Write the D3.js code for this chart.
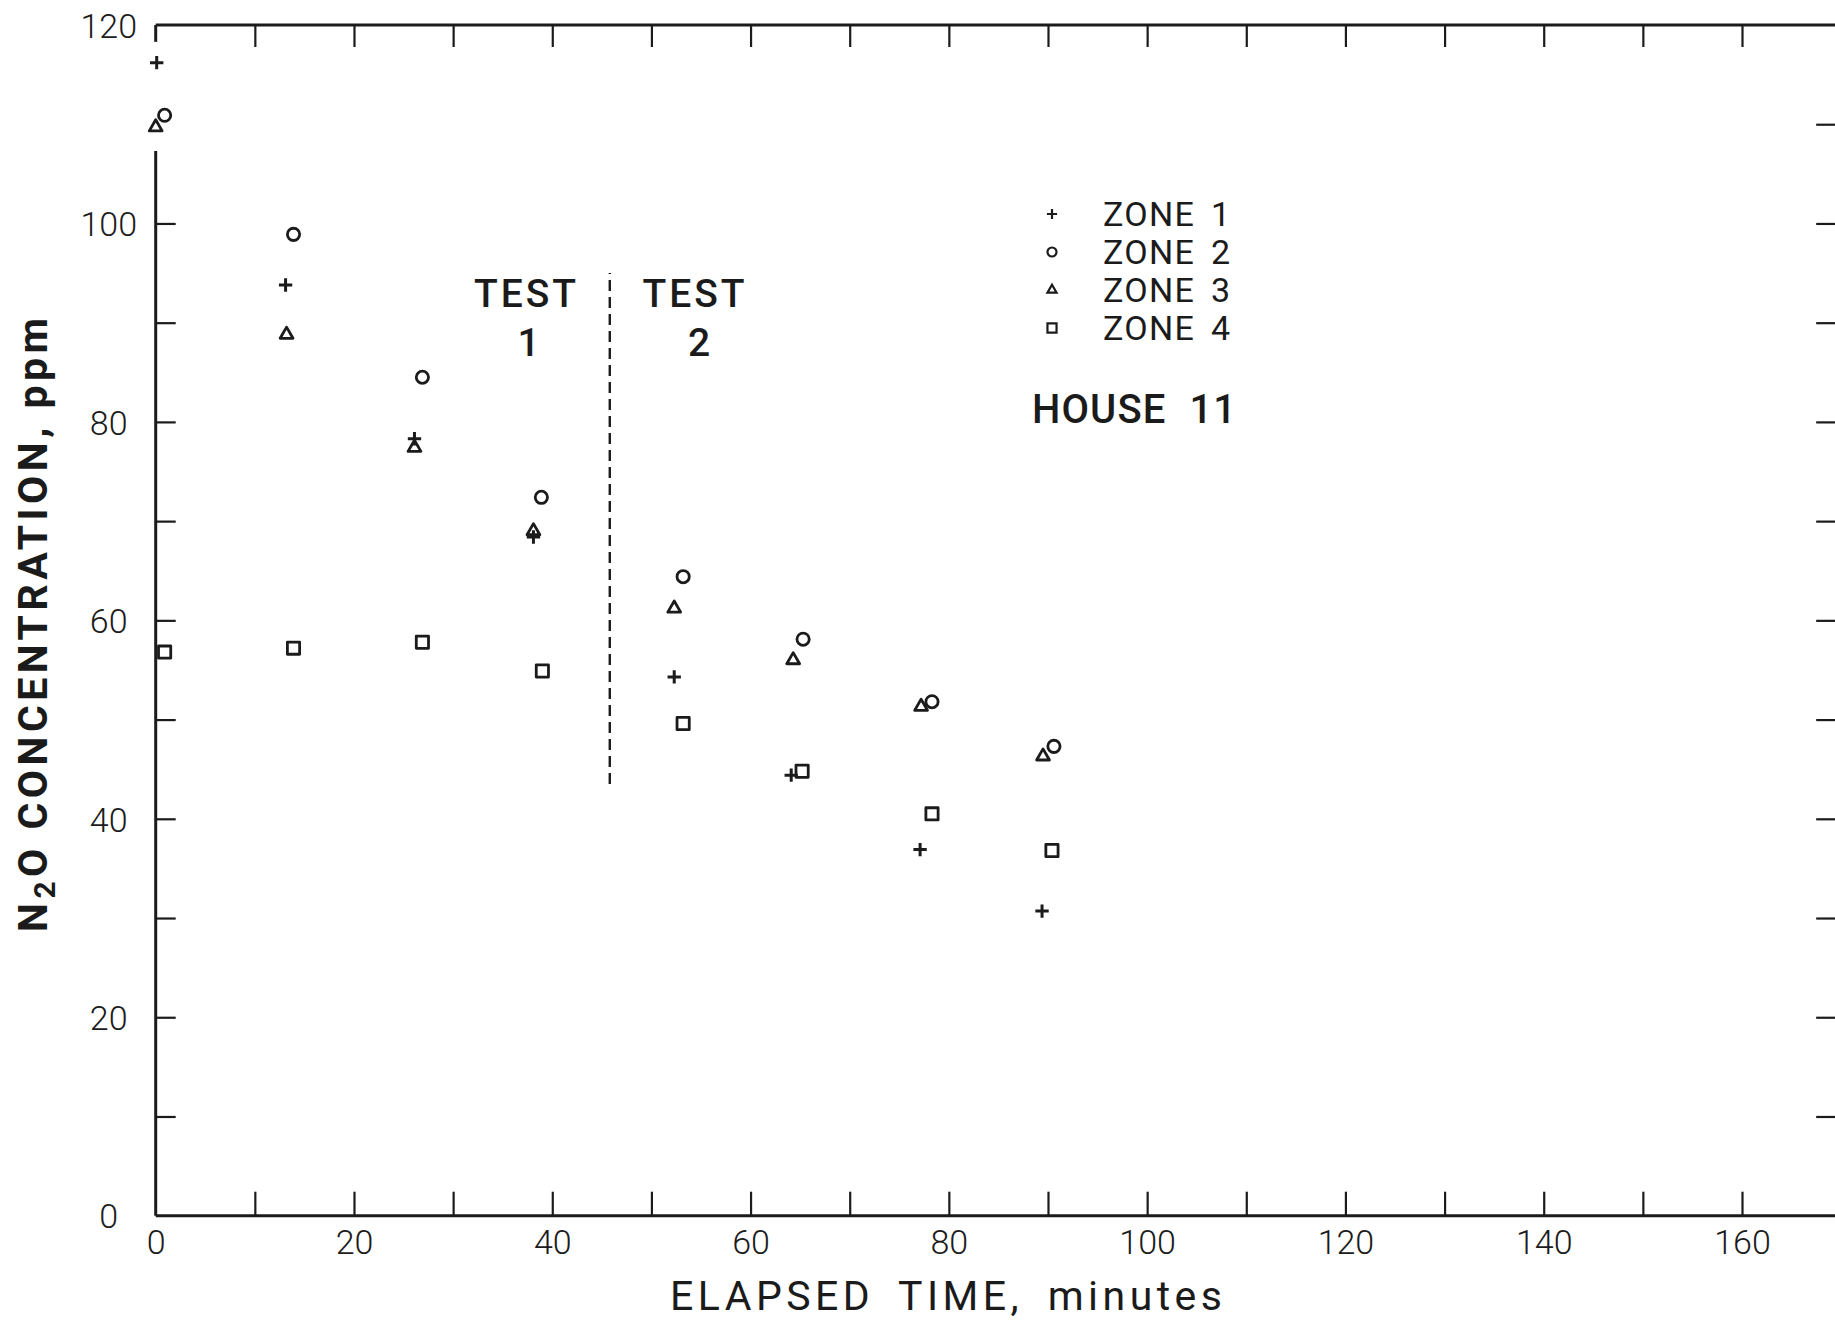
<!DOCTYPE html>
<html>
<head>
<meta charset="utf-8">
<script src="https://cdn.jsdelivr.net/npm/d3@7"></script>
<style>
  html, body { margin: 0; padding: 0; background: #fff; }
  svg { display: block; }
  text { font-family: Roboto, "Liberation Sans", "DejaVu Sans", sans-serif; fill: #1b1b1b; }
</style>
</head>
<body>
<svg id="chart" width="1835" height="1321"></svg>
<script>
// N2O concentration (ppm) measured in four zones of house 11, elapsed time in minutes
const zoneNames = ["ZONE 1", "ZONE 2", "ZONE 3", "ZONE 4"];

const zone1Time = [0.1, 13.1, 26.1, 38.1, 52.3, 64.1, 77.1, 89.4];
const zone1Conc = [116.2, 93.8, 78.3, 68.4, 54.3, 44.4, 36.9, 30.7];

const zone2Time = [0.9, 13.9, 26.9, 38.9, 53.2, 65.3, 78.3, 90.6];
const zone2Conc = [110.9, 98.9, 84.5, 72.4, 64.4, 58.1, 51.8, 47.3];

const zone3Time = [0.0, 13.2, 26.1, 38.1, 52.3, 64.3, 77.2, 89.5];
const zone3Conc = [109.7, 88.8, 77.4, 69.0, 61.2, 56.0, 51.3, 46.3];

const zone4Time = [0.9, 13.9, 26.9, 39.0, 53.2, 65.2, 78.3, 90.4];
const zone4Conc = [56.8, 57.2, 57.8, 54.9, 49.6, 44.8, 40.5, 36.8];

const xTickLabels = [0, 20, 40, 60, 80, 100, 120, 140, 160];
const xTickMarks = [10, 20, 30, 40, 50, 60, 70, 80, 90, 100, 110, 120, 130, 140, 150, 160];
const yTickLabels = [0, 20, 40, 60, 80, 100, 120];
const yTickMarksLeft = [10, 20, 30, 40, 50, 60, 70, 80, 90, 100];
const yTickMarksRight = [10, 20, 30, 40, 50, 60, 70, 80, 90, 100, 110];

// boundary between the two tests
const testBoundaryTime = 45.8;
const testBoundaryConc = [43.5, 95];

const svg = d3.select("#chart");
const W = 1835, H = 1321;
svg.append("rect").attr("width", W).attr("height", H).attr("fill", "#fff");

const x = d3.scaleLinear().domain([0, 160]).range([155.7, 1742]);
const y = d3.scaleLinear().domain([0, 120]).range([1215.7, 25]);
const xRight = 169.7;

const ink = "#1b1b1b";

// ---- frame lines ----
const frame = svg.append("g").attr("stroke", ink).attr("stroke-width", 3).attr("fill", "none");
frame.append("line").attr("x1", x(0)).attr("x2", W + 5).attr("y1", y(0)).attr("y2", y(0));
frame.append("line").attr("x1", x(0)).attr("x2", W + 5).attr("y1", y(120)).attr("y2", y(120));
// left axis is interrupted near the top where the first readings sit
frame.append("line").attr("x1", x(0)).attr("x2", x(0)).attr("y1", y(0)).attr("y2", y(107.3));
frame.append("line").attr("x1", x(0)).attr("x2", x(0)).attr("y1", y(120)).attr("y2", y(118.3));
frame.append("line").attr("x1", x(xRight)).attr("x2", x(xRight)).attr("y1", y(0)).attr("y2", y(120));

// ---- tick marks (inward) ----
function tickStyle(g) {
  g.select(".domain").remove();
  g.selectAll(".tick line").attr("stroke", ink).attr("stroke-width", 2.2);
}
svg.append("g").attr("transform", `translate(0,${y(0)})`)
  .call(d3.axisBottom(x).tickValues(xTickMarks).tickSizeInner(-24).tickSizeOuter(0).tickFormat(""))
  .call(tickStyle);
svg.append("g").attr("transform", `translate(0,${y(120)})`)
  .call(d3.axisTop(x).tickValues(xTickMarks).tickSizeInner(-22).tickSizeOuter(0).tickFormat(""))
  .call(tickStyle);
svg.append("g").attr("transform", `translate(${x(0)},0)`)
  .call(d3.axisLeft(y).tickValues(yTickMarksLeft).tickSizeInner(-20).tickSizeOuter(0).tickFormat(""))
  .call(tickStyle);
svg.append("g").attr("transform", `translate(${x(xRight)},0)`)
  .call(d3.axisRight(y).tickValues(yTickMarksRight).tickSizeInner(-22).tickSizeOuter(0).tickFormat(""))
  .call(tickStyle);

// ---- tick labels ----
const tickFont = 34;
svg.append("g").attr("transform", `translate(0,${y(0)})`)
  .call(d3.axisBottom(x).tickValues(xTickLabels).tickSize(0).tickFormat(d3.format("d")))
  .call(g => {
    g.select(".domain").remove();
    g.selectAll("text").attr("y", 38).attr("dy", 0)
      .attr("font-size", tickFont).attr("font-weight", 300)
      .attr("font-family", "Roboto, sans-serif").attr("fill", ink);
  });
svg.append("g").attr("transform", `translate(${x(0)},0)`)
  .call(d3.axisLeft(y).tickValues(yTickLabels).tickSize(0).tickFormat(d3.format("d")))
  .call(g => {
    g.select(".domain").remove();
    g.selectAll("text").attr("x", -47).attr("dy", "0.36em").attr("text-anchor", "middle")
      .attr("font-size", tickFont).attr("font-weight", 300)
      .attr("font-family", "Roboto, sans-serif").attr("fill", ink);
  });

// spread text so it covers a given width
function spread(sel, width) {
  const node = sel.node();
  const n = node.textContent.length;
  const w = node.getComputedTextLength();
  sel.attr("letter-spacing", ((width - w) / (n - 1)).toFixed(2));
}

// ---- axis titles ----
const xTitle = svg.append("text")
  .attr("x", 670).attr("y", 1310)
  .attr("font-size", 41).attr("font-weight", 400)
  .text("ELAPSED TIME, minutes");
xTitle.attr("word-spacing", 10);
spread(xTitle, 552);

const yTitle = svg.append("text")
  .attr("transform", `translate(47,932) rotate(-90)`)
  .attr("font-size", 41).attr("font-weight", 700);
yTitle.append("tspan").text("N");
yTitle.append("tspan").attr("font-size", 30).attr("dy", 8).text("2");
yTitle.append("tspan").attr("dy", -8).text("O CONCENTRATION, ppm");
spread(yTitle, 614);

// ---- test boundary and labels ----
svg.append("line")
  .attr("x1", x(testBoundaryTime)).attr("x2", x(testBoundaryTime))
  .attr("y1", y(testBoundaryConc[0])).attr("y2", y(testBoundaryConc[1]))
  .attr("stroke", ink).attr("stroke-width", 2.4).attr("stroke-dasharray", "11,6");

const testLabels = [
  { t: 37.4, c: 91.6, s: "TEST" },
  { t: 37.6, c: 86.6, s: "1" },
  { t: 54.4, c: 91.6, s: "TEST" },
  { t: 54.8, c: 86.6, s: "2" }
];
svg.append("g").selectAll("text").data(testLabels).join("text")
  .attr("x", d => x(d.t)).attr("y", d => y(d.c))
  .attr("text-anchor", "middle")
  .attr("font-size", 39).attr("font-weight", 500)
  .attr("letter-spacing", d => d.s === "TEST" ? 3 : 0)
  .text(d => d.s);

// ---- symbols ----
const plusType = d3.symbolPlus || d3.symbolCross;
const triType = d3.symbolTriangle2 || d3.symbolTriangle;
const sqType = d3.symbolSquare2 || d3.symbolSquare;
const zoneSymbols = [
  { type: plusType, size: 60, legendSize: 36 },
  { type: d3.symbolCircle, size: 118, legendSize: 64 },
  { type: triType, size: 118, legendSize: 60 },
  { type: sqType, size: 190, legendSize: 105 }
];

const zones = [
  { time: zone1Time, conc: zone1Conc },
  { time: zone2Time, conc: zone2Conc },
  { time: zone3Time, conc: zone3Conc },
  { time: zone4Time, conc: zone4Conc }
];

zones.forEach((z, i) => {
  const sym = zoneSymbols[i];
  const pts = z.time.map((t, k) => ({ t, c: z.conc[k] }));
  svg.append("g").attr("class", "zone" + (i + 1))
    .selectAll("path").data(pts).join("path")
    .attr("transform", d => `translate(${x(d.t)},${y(d.c)})`)
    .attr("d", d3.symbol().type(sym.type).size(sym.size))
    .attr("fill", "none").attr("stroke", ink)
    .attr("stroke-width", i === 0 ? 3 : 2.8)
    .attr("stroke-linejoin", "round");
});

// ---- legend ----
const legendX = 1052, legendTextX = 1103, legendY0 = 214, legendStep = 38;
const legend = svg.append("g");
zoneNames.forEach((name, i) => {
  const cy = legendY0 + i * legendStep;
  legend.append("path")
    .attr("transform", `translate(${legendX},${cy})`)
    .attr("d", d3.symbol().type(zoneSymbols[i].type).size(zoneSymbols[i].legendSize))
    .attr("fill", "none").attr("stroke", ink).attr("stroke-width", 2.2);
  const t = legend.append("text")
    .attr("x", legendTextX).attr("y", cy + 12)
    .attr("font-size", 34).attr("font-weight", 400)
    .attr("word-spacing", 6)
    .text(name);
  spread(t, 127);
});

const house = svg.append("text")
  .attr("x", 1032).attr("y", 423)
  .attr("font-size", 40).attr("font-weight", 500)
  .attr("word-spacing", 12)
  .text("HOUSE 11");
spread(house, 204);
</script>
</body>
</html>
